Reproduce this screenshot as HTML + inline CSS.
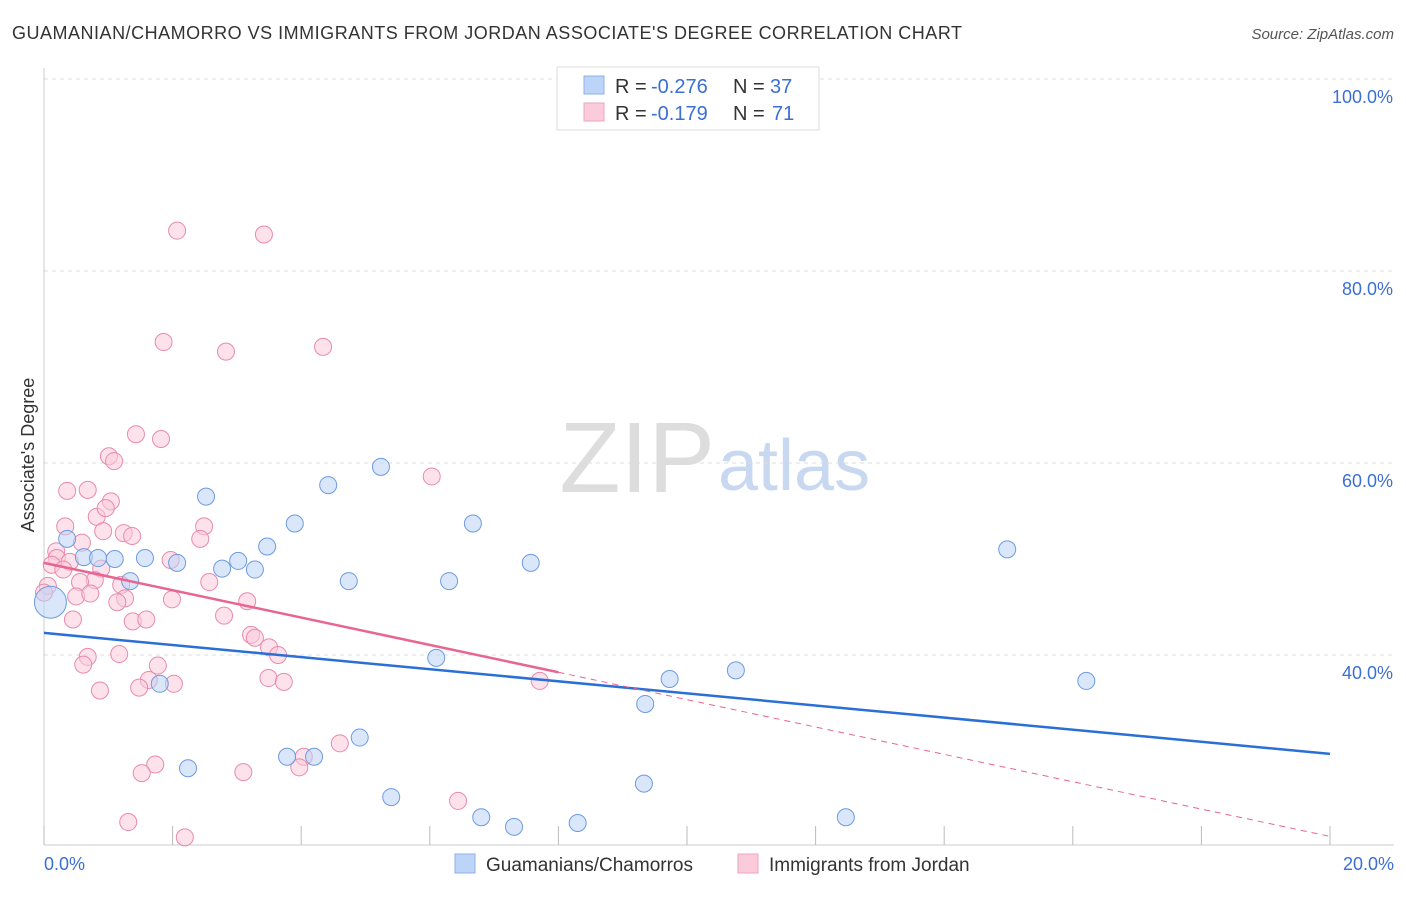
<!DOCTYPE html>
<html><head><meta charset="utf-8"><style>
body{margin:0;background:#fff;font-family:"Liberation Sans",sans-serif}
svg text{font-family:"Liberation Sans",sans-serif}
</style></head><body>
<svg id="c" width="1406" height="892">
<text x="12" y="39" font-size="18" fill="#333" textLength="950">GUAMANIAN/CHAMORRO VS IMMIGRANTS FROM JORDAN ASSOCIATE'S DEGREE CORRELATION CHART</text>
<text x="1394" y="39" font-size="15" fill="#555" text-anchor="end" font-style="italic">Source: ZipAtlas.com</text>
<text x="715" y="492" font-size="100" fill="#ddd" text-anchor="end" font-family="Liberation Serif">ZIP</text>
<text x="718" y="490" font-size="72" fill="#c8d8f0">atlas</text>
<g id="grid"></g><g id="marks"></g>
<text transform="translate(34,455) rotate(-90)" font-size="18" fill="#333" text-anchor="middle">Associate's Degree</text>
<text x="44" y="870" font-size="18" fill="#3b6fd4">0.0%</text>
<text x="1394" y="870" font-size="18" fill="#3b6fd4" text-anchor="end">20.0%</text>
<g>
<rect x="557" y="67" width="262" height="63" fill="#fff" stroke="#ddd"/>
<rect x="584" y="76" width="20" height="18" fill="#bcd4f7" stroke="#8fb0e6"/>
<rect x="584" y="103" width="20" height="18" fill="#fbcadb" stroke="#eea5bd"/>
<text y="93" font-size="20" fill="#333"><tspan x="615">R =</tspan><tspan x="651" fill="#3b6fd4">-0.276</tspan><tspan x="733">N =</tspan><tspan x="770" fill="#3b6fd4">37</tspan></text>
<text y="120" font-size="20" fill="#333"><tspan x="615">R =</tspan><tspan x="651" fill="#3b6fd4">-0.179</tspan><tspan x="733">N =</tspan><tspan x="772" fill="#3b6fd4">71</tspan></text>
</g>
<g>
<rect x="455" y="854" width="20" height="19" fill="#bcd4f7" stroke="#8fb0e6"/>
<text x="486" y="871" font-size="19" fill="#333">Guamanians/Chamorros</text>
<rect x="738" y="854" width="20" height="19" fill="#fbcadb" stroke="#eea5bd"/>
<text x="769" y="871" font-size="19" fill="#333">Immigrants from Jordan</text>
</g>
</svg>
<script>
const yTicks=[40,60,80,100];
const xTicks=[0,2,4,6,8,10,12,14,16,18,20];
const blueX=[0.1,0.36,0.62,0.84,1.1,1.34,1.57,1.8,2.07,2.24,2.52,2.77,3.02,3.28,3.47,3.78,3.9,4.2,4.42,4.74,4.91,5.24,5.4,6.1,6.3,6.67,6.8,7.31,7.57,8.3,9.35,9.33,9.73,10.76,12.47,14.98,16.21];
const blueY=[45.5,52.1,50.2,50.1,50.0,47.7,50.1,37.0,49.6,28.2,56.5,49.0,49.8,48.9,51.3,29.4,53.7,29.4,57.7,47.7,31.4,59.6,25.2,39.7,47.7,53.7,23.1,22.1,49.6,22.5,34.9,26.6,37.5,38.4,23.1,51.0,37.3];
const pinkX=[2.07,3.42,1.86,2.83,4.34,1.43,1.82,1.01,1.09,6.03,1.04,0.36,0.68,0.82,0.96,0.33,2.49,0.92,1.24,1.37,2.43,0.59,0.19,0.2,0.4,0.12,1.97,0.3,0.89,0.79,0.56,1.2,2.57,0.06,0.0,0.5,0.72,1.26,1.14,1.99,3.16,0.45,1.38,1.59,2.8,3.22,3.28,3.5,3.64,1.17,0.68,0.61,1.77,1.63,2.02,3.49,3.73,0.87,1.48,7.71,4.6,4.04,3.97,1.73,1.52,3.1,6.44,1.31,2.19];
const pinkY=[84.2,83.8,72.6,71.6,72.1,63.0,62.5,60.7,60.2,58.6,56.0,57.1,57.2,54.4,55.3,53.4,53.4,52.9,52.7,52.4,52.1,51.7,50.8,50.1,49.7,49.4,49.9,48.9,49.0,47.8,47.6,47.3,47.6,47.2,46.5,46.1,46.4,45.9,45.5,45.8,45.6,43.7,43.5,43.7,44.1,42.1,41.8,40.8,40.0,40.1,39.8,39.0,38.9,37.4,37.0,37.6,37.2,36.3,36.6,37.3,30.8,29.4,28.3,28.6,27.7,27.8,24.8,22.6,21.0];
const px=v=>44+v/20*1286, py=v=>1039-v*9.6;
const ns='http://www.w3.org/2000/svg';
function mk(t,a,p){const e=document.createElementNS(ns,t);for(const k in a)e.setAttribute(k,a[k]);p.appendChild(e);return e;}
const g=document.getElementById('grid'),m=document.getElementById('marks');
yTicks.forEach(v=>{
 const l=mk('line',{x1:44,x2:1394,y1:py(v),y2:py(v),stroke:'#ddd','stroke-dasharray':'4,4'},g);
 
 
 const t=mk('text',{x:1393,y:py(v)+24,'font-size':18,fill:'#3b6fd4','text-anchor':'end'},g);t.textContent=v.toFixed(1)+'%';
 
 
});
mk('line',{x1:44,x2:1394,y1:845,y2:845,stroke:'#ccc'},g);
mk('line',{x1:44,x2:44,y1:68,y2:845,stroke:'#ccc'},g);
xTicks.forEach(v=>{const l=mk('line',{x1:px(v),x2:px(v),y1:826,y2:845,stroke:'#bbb'},g);
 
 });
function dots(X,Y,fill,stroke,name){X.forEach((x,i)=>{const c=mk('circle',{cx:px(x),cy:py(Y[i]),r:(name==='blue-point'&&i===0)?16:8.5,fill:fill,'fill-opacity':0.55,stroke:stroke,'stroke-width':1},m);
 
 });}
dots(pinkX,pinkY,'#fbcadb','#e98aab','pink-point');
dots(blueX,blueY,'#bcd4f7','#6d9be0','blue-point');
const ba=42.3,bb=-0.63,pa=49.6,pb=-1.425;
const bl=mk('line',{x1:px(0),y1:py(ba),x2:px(20),y2:py(ba+bb*20),stroke:'#2a6fd6','stroke-width':2.5},m);


const pl=mk('line',{x1:px(0),y1:py(pa),x2:px(8),y2:py(pa+pb*8),stroke:'#e86591','stroke-width':2.5},m);


const pd=mk('line',{x1:px(8),y1:py(pa+pb*8),x2:px(20),y2:py(pa+pb*20),stroke:'#e86591','stroke-width':1,'stroke-dasharray':'6,5'},m);


</script>
</body></html>
